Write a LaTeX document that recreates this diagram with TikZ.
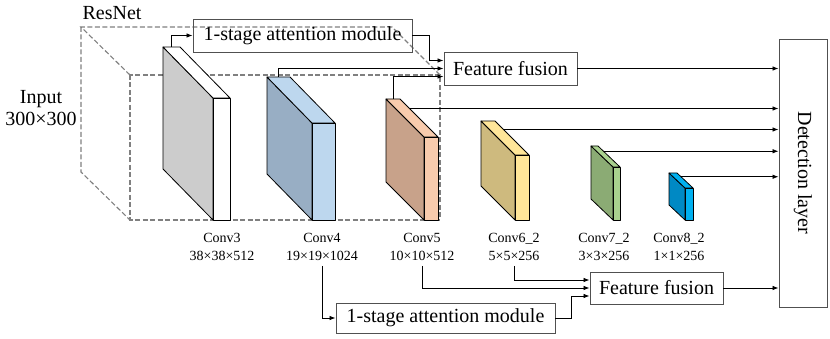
\documentclass[tikz,border=0pt]{standalone}
\usepackage{fontspec}
\setmainfont{Liberation Serif}
\usetikzlibrary{arrows.meta,calc}
\definecolor{sidegray}{HTML}{CCCCCC}
\definecolor{sideblue}{HTML}{98AEC4}
\definecolor{frontblue}{HTML}{BDD7EE}
\definecolor{sidebrown}{HTML}{C8A28A}
\definecolor{frontpeach}{HTML}{F8CBAD}
\definecolor{sideolive}{HTML}{CEBA7E}
\definecolor{frontyellow}{HTML}{FFE699}
\definecolor{sidegreen}{HTML}{8BAB74}
\definecolor{frontgreen}{HTML}{A9D18E}
\definecolor{sidecyan}{HTML}{0089C4}
\definecolor{frontcyan}{HTML}{00B0F0}
\definecolor{boxline}{HTML}{505050}
\definecolor{dashgray}{HTML}{808080}
\newcommand\featblock[8]{%
  \coordinate (#1f1) at (#2,#4);
  \coordinate (#1f2) at (#3,#4);
  \coordinate (#1f3) at (#3,220);
  \coordinate (#1f4) at (#2,220);
  \coordinate (#1b1) at (#2-#5,#4-#6);
  \coordinate (#1b2) at (#3-#5,#4-#6);
  \coordinate (#1b4) at (#2-#5,220-#6);
  \draw[blk,fill=#7] (#1b1)--(#1f1)--(#1f4)--(#1b4)--cycle;
  \draw[blk,fill=#8] (#1b1)--(#1b2)--(#1f2)--(#1f1)--cycle;
  \draw[blk,fill=#8] (#1f1) rectangle (#1f3);
  \coordinate (#1up) at ($(#1b1)!0.5!(#1b2)$);
  \coordinate (#1r) at ($(#1b2)!0.25!(#1f2)$);
}
\begin{document}
\begin{tikzpicture}[x=1pt,y=-1pt,
  blk/.style={draw=black,line width=0.8pt,line join=round},
  conn/.style={line width=0.8pt,-{Latex[length=6pt,width=4.5pt]}},
  lbox/.style={draw=boxline,line width=0.9pt,inner sep=0pt,font=\fontsize{20}{24}\selectfont},
  bigtext/.style={inner sep=0pt,font=\fontsize{20}{22}\selectfont,align=center},
  convlab/.style={inner sep=0pt,font=\fontsize{14}{18}\selectfont,align=center},
  dashbox/.style={draw=dashgray,dash pattern=on 5pt off 2.5pt,line width=1.1pt}]
\useasboundingbox (0,0) rectangle (830,339);

% ResNet dashed box
\draw[dashbox] (130,75) rectangle (440,220);
\draw[dashbox] (130,75) -- (81,27) -- (392,27) -- (440,75);
\draw[dashbox] (81,27) -- (81,172) -- (130,220);

% feature blocks
\featblock{cA}{213}{230}{98}{50}{51}{sidegray}{white}
\featblock{cB}{312}{335}{123}{45}{46}{sideblue}{frontblue}
\featblock{cC}{424}{438}{137}{38}{38}{sidebrown}{frontpeach}
\featblock{cD}{515}{529}{155}{34}{34}{sideolive}{frontyellow}
\featblock{cE}{613}{620}{167}{22}{21}{sidegreen}{frontgreen}
\featblock{cF}{685}{693}{188}{16}{15}{sidecyan}{frontcyan}

% texts
\node[bigtext] (resnet) at (112,13) {ResNet};
\node[bigtext] (input) at (41,108) {Input\\300×300};

\node[convlab] (lab3) at (222,247) {Conv3\\38×38×512};
\node[convlab] (lab4) at (322,247) {Conv4\\19×19×1024};
\node[convlab] (lab5) at (422,247) {Conv5\\10×10×512};
\node[convlab] (lab6) at (514,247) {Conv6\_2\\5×5×256};
\node[convlab] (lab7) at (604,247) {Conv7\_2\\3×3×256};
\node[convlab] (lab8) at (679,247) {Conv8\_2\\1×1×256};

% boxes
\node[lbox,minimum width=219pt,minimum height=33pt] (att1) at (302.5,35.5) {1-stage attention module};
\node[lbox,minimum width=219pt,minimum height=30pt] (att2) at (445.5,318) {1-stage attention module};
\node[lbox,minimum width=133pt,minimum height=33pt] (ff1) at (510.5,68.5) {Feature fusion};
\node[lbox,minimum width=133pt,minimum height=32pt] (ff2) at (656.5,288) {Feature fusion};
\node[lbox,minimum width=48pt,minimum height=268pt] (det) at (803,173) {};
\node[bigtext,rotate=-90] (detlab) at (det.center) {Detection layer};

% top connectors
\draw[conn] (cAup) |- (att1.west);
\draw[conn] (att1.east) -- ++(17,0) |- ([yshift=8pt]ff1.west);
\draw[conn] (cBup) |- (ff1.west);
\draw[conn] (cCup) |- ([yshift=-8pt]ff1.west);
\draw[conn] (ff1.east) -- (ff1.east -| det.west);

% to detection layer
\draw[conn] (cCr) -- (cCr -| det.west);
\draw[conn] (cDr) -- (cDr -| det.west);
\draw[conn] (cEr) -- (cEr -| det.west);
\draw[conn] (cFr) -- (cFr -| det.west);

% bottom connectors
\draw[conn] ([yshift=-5pt]lab4.south) |- (att2.west);
\draw[conn] ([yshift=-5pt]lab5.south) |- (ff2.west);
\draw[conn] ([yshift=-5pt]lab6.south) |- ([yshift=8pt]ff2.west);
\draw[conn] (att2.east) -- ++(16,0) |- ([yshift=-8pt]ff2.west);
\draw[conn] (ff2.east) -- (ff2.east -| det.west);
\end{tikzpicture}
\end{document}
